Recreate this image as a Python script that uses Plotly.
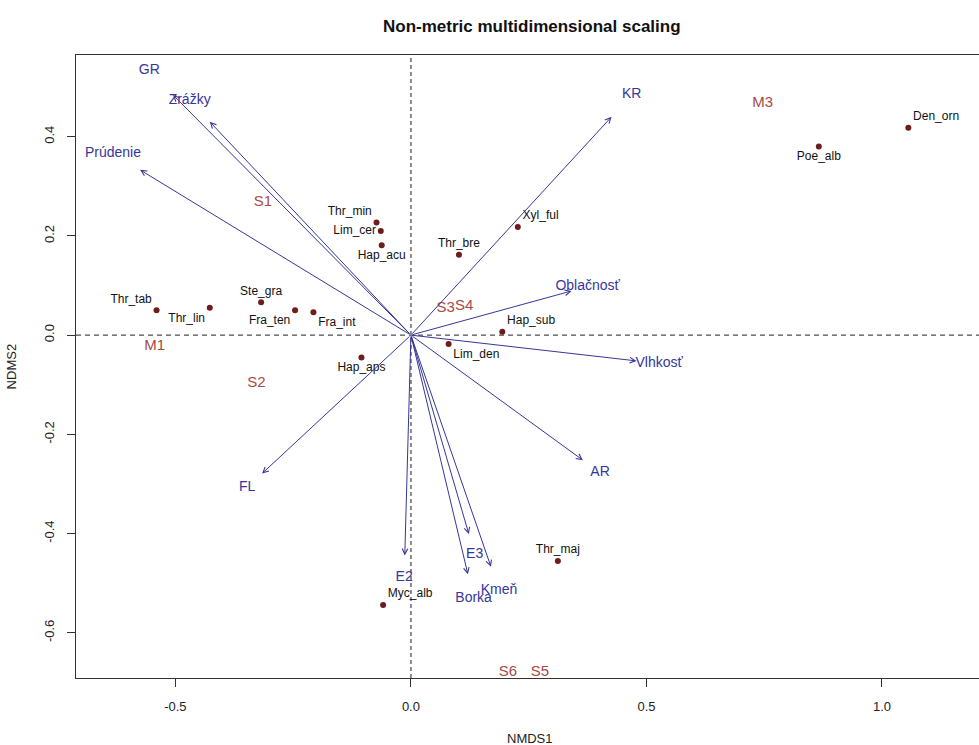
import plotly.graph_objects as go

# Species scores (NMDS1, NMDS2)
species = ["Thr_tab", "Thr_lin", "Ste_gra", "Fra_ten", "Fra_int", "Thr_min",
           "Lim_cer", "Hap_acu", "Thr_bre", "Xyl_ful", "Den_orn", "Poe_alb",
           "Hap_sub", "Lim_den", "Hap_aps", "Myc_alb", "Thr_maj"]
species_x = [-0.540, -0.427, -0.318, -0.246, -0.207, -0.073, -0.064, -0.062,
             0.102, 0.227, 1.056, 0.866, 0.194, 0.080, -0.105, -0.059, 0.312]
species_y = [0.050, 0.055, 0.066, 0.050, 0.046, 0.227, 0.210, 0.181,
             0.162, 0.218, 0.418, 0.380, 0.007, -0.018, -0.045, -0.544, -0.455]

# Site scores
sites = ["M1", "S1", "S2", "S3", "S4", "M3", "S6", "S5"]
site_x = [-0.544, -0.314, -0.328, 0.074, 0.113, 0.747, 0.206, 0.274]
site_y = [-0.023, 0.267, -0.096, 0.054, 0.058, 0.467, -0.680, -0.680]

# Fitted environmental vectors (arrow tips)
env_vars = ["GR", "Zrážky", "Prúdenie", "KR", "Oblačnosť", "Vlhkosť",
            "AR", "FL", "E2", "E3", "Kmeň", "Borka"]
env_x = [-0.505, -0.427, -0.575, 0.426, 0.341, 0.479,
         0.365, -0.316, -0.013, 0.123, 0.170, 0.121]
env_y = [0.484, 0.430, 0.333, 0.440, 0.089, -0.052,
         -0.252, -0.279, -0.444, -0.401, -0.467, -0.482]

x_ticks = [-0.5, 0.0, 0.5, 1.0]
x_tick_labels = ["-0.5", "0.0", "0.5", "1.0"]
y_ticks = [-0.6, -0.4, -0.2, 0.0, 0.2, 0.4]
y_tick_labels = ["-0.6", "-0.4", "-0.2", "0.0", "0.2", "0.4"]

# label placement around species points
label_pos = {
    "Thr_tab": "top left", "Thr_lin": "bottom left", "Ste_gra": "top center",
    "Fra_ten": "bottom left", "Fra_int": "bottom right", "Thr_min": "top left",
    "Lim_cer": "middle left", "Hap_acu": "bottom center", "Thr_bre": "top center",
    "Xyl_ful": "top right", "Den_orn": "top right", "Poe_alb": "bottom center",
    "Hap_sub": "top right", "Lim_den": "bottom right", "Hap_aps": "bottom center",
    "Myc_alb": "top right", "Thr_maj": "top center",
}

FONT = "Liberation Sans, Arial, sans-serif"
ARROW_COL = "#36369a"
SITE_COL = "#a84a44"
POINT_COL = "#6e1c1c"
LABEL_MULT = 1.1  # vector labels sit just beyond the arrow tips

fig = go.Figure()

# reference lines through the origin
fig.add_hline(y=0, line=dict(color="#222222", width=1, dash="5px,4px"), layer="below")
fig.add_vline(x=0, line=dict(color="#8a8a8a", width=2, dash="4px,3px"), layer="below")

# species points
fig.add_trace(go.Scatter(
    x=species_x, y=species_y, mode="markers+text",
    text=species, textposition=[label_pos[s] for s in species],
    marker=dict(size=6, color=POINT_COL),
    textfont=dict(family=FONT, size=12, color="#111111"),
    cliponaxis=True, hoverinfo="skip", showlegend=False,
))

# site labels
fig.add_trace(go.Scatter(
    x=site_x, y=site_y, mode="text", text=sites,
    textfont=dict(family=FONT, size=15, color=SITE_COL),
    cliponaxis=True, hoverinfo="skip", showlegend=False,
))

# environmental arrows
for vx, vy in zip(env_x, env_y):
    fig.add_annotation(
        x=vx, y=vy, ax=0, ay=0, xref="x", yref="y", axref="x", ayref="y",
        text="", showarrow=True, arrowhead=5, arrowsize=1.1, arrowwidth=1,
        arrowcolor=ARROW_COL, standoff=0, startstandoff=0,
    )

# environmental vector labels
fig.add_trace(go.Scatter(
    x=[v * LABEL_MULT for v in env_x], y=[v * LABEL_MULT for v in env_y],
    mode="text", text=env_vars,
    textfont=dict(family=FONT, size=14, color=ARROW_COL),
    cliponaxis=True, hoverinfo="skip", showlegend=False,
))

axis_common = dict(
    showgrid=False, zeroline=False, showline=True, linecolor="#333333",
    linewidth=1, ticks="outside", ticklen=8, tickcolor="#333333",
    tickfont=dict(family=FONT, size=13, color="#222222"),
)
fig.update_xaxes(range=[-0.711, 1.206], tickvals=x_ticks, ticktext=x_tick_labels,
                 mirror=True, ticklabelstandoff=8, **axis_common)
fig.update_yaxes(range=[-0.691, 0.5645], tickvals=y_ticks, ticktext=y_tick_labels,
                 tickangle=-90, ticklabelstandoff=8, **axis_common)

# title and axis titles
fig.add_annotation(text="<b>Non-metric multidimensional scaling</b>", xref="paper", yref="paper",
                   x=0.505, y=1.045, xanchor="center", yanchor="middle", showarrow=False,
                   font=dict(family=FONT, size=17, color="#111111"))
fig.add_annotation(text="NMDS1", xref="paper", yref="paper", x=0.503, y=-0.097,
                   xanchor="center", yanchor="middle", showarrow=False,
                   font=dict(family=FONT, size=13, color="#222222"))
fig.add_annotation(text="NDMS2", xref="paper", yref="paper", x=-0.071, y=0.5,
                   xanchor="center", yanchor="middle", textangle=-90, showarrow=False,
                   font=dict(family=FONT, size=13, color="#222222"))

fig.update_layout(
    width=979, height=745,
    margin=dict(l=76, r=0, t=55, b=67),
    paper_bgcolor="white", plot_bgcolor="white",
    showlegend=False,
)

fig.write_html("out.html")
